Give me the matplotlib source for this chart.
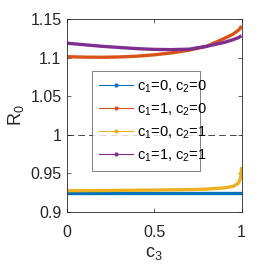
import numpy as np
import matplotlib
matplotlib.use("Agg")
import matplotlib.pyplot as plt
from matplotlib.lines import Line2D

# values
c3 = [0, 0.1, 0.2, 0.3, 0.4, 0.5, 0.6, 0.7, 0.8, 0.9, 0.95, 0.98, 0.99, 0.995, 1.0]
r0_00 = [0.9246] * len(c3)
r0_10 = [1.101, 1.1005, 1.1003, 1.1007, 1.1017, 1.1035, 1.106, 1.1095, 1.1145, 1.1245, 1.130, 1.135, 1.137, 1.139, 1.141]
r0_01 = [0.9276, 0.9277, 0.9278, 0.928, 0.9282, 0.9284, 0.9287, 0.929, 0.9296, 0.9312, 0.933, 0.937, 0.941, 0.945, 0.958]
r0_11 = [1.1185, 1.1165, 1.1145, 1.113, 1.1115, 1.1105, 1.1102, 1.1108, 1.1145, 1.1195, 1.123, 1.1255, 1.1268, 1.1276, 1.1284]
labels = ["c$_1$=0, c$_2$=0", "c$_1$=1, c$_2$=0", "c$_1$=0, c$_2$=1", "c$_1$=1, c$_2$=1"]
colors = ["#0072BD", "#D95319", "#EDB120", "#7E2F8E"]

plt.rcParams['font.family'] = ['Liberation Sans', 'DejaVu Sans']
plt.rcParams['mathtext.fontset'] = 'custom'
plt.rcParams['mathtext.rm'] = 'Liberation Sans'
plt.rcParams['mathtext.it'] = 'Liberation Sans'

fig = plt.figure(figsize=(2.66, 2.66), dpi=100)
ax = fig.add_axes([0.252, 0.203, 0.656, 0.726])

series = [r0_00, r0_10, r0_01, r0_11]
for ys, col in zip(series, colors):
    ax.plot(c3, ys, color=col, lw=2.4, solid_capstyle='butt')
ax.axhline(1.0, color='#262626', lw=0.6, ls=(0, (8, 5)))

ax.set_xlim(0, 1)
ax.set_ylim(0.9, 1.15)
ax.set_xticks([0, 0.5, 1])
ax.set_xticklabels(["0", "0.5", "1"])
ax.set_yticks([0.9, 0.95, 1.0, 1.05, 1.1, 1.15])
ax.set_yticklabels(["0.9", "0.95", "1", "1.05", "1.1", "1.15"])
ax.tick_params(direction='in', length=3, width=0.5, colors='#262626', labelsize=11.5,
               top=True, right=True)
ax.tick_params(axis='x', pad=9)
ax.tick_params(axis='y', pad=4)
for s in ax.spines.values():
    s.set_linewidth(0.6)
    s.set_color('#262626')

ax.set_xlabel("c$_3$", fontsize=13, color='#262626', labelpad=4)
ax.set_ylabel("R$_0$", fontsize=13, color='#262626', labelpad=3)

handles = [Line2D([0], [0], color=c, lw=0.8, marker='.', markersize=4) for c in colors]
leg = ax.legend(handles, labels, loc='lower left', bbox_to_anchor=(0.143, 0.212, 0.619, 0.519),
                mode='expand', borderaxespad=0, fancybox=False, fontsize=10.5,
                handlelength=2.3, handletextpad=0.3, labelspacing=0.45, borderpad=0.5)
leg.get_frame().set_edgecolor('#262626')
leg.get_frame().set_linewidth(0.5)

fig.savefig("out.png", dpi=100)
